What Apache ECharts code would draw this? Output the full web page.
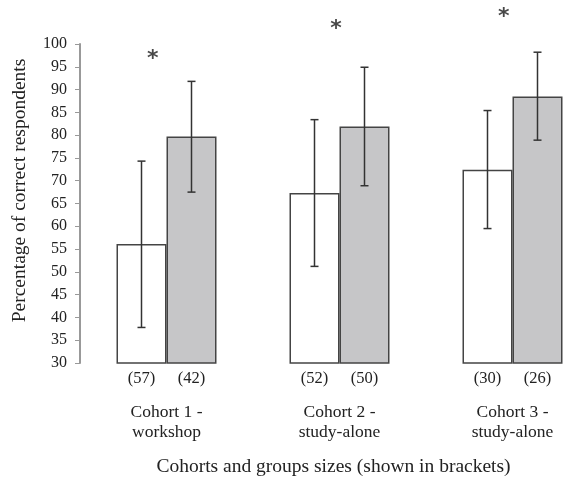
<!DOCTYPE html>
<html><head><meta charset="utf-8">
<script src="https://cdn.jsdelivr.net/npm/echarts@6/dist/echarts.min.js"></script>
<style>html,body{margin:0;padding:0;background:#fff}#c{width:563px;height:482px}</style>
</head><body><div id="c"></div>
<script>
const categories = ['Cohort 1 -\nworkshop', 'Cohort 2 -\nstudy-alone', 'Cohort 3 -\nstudy-alone'];
const whiteValues = [56.1, 67.3, 72.4];
const grayValues = [79.7, 81.9, 88.5];
const whiteLow = [37.8, 51.2, 59.5];
const whiteHigh = [74.3, 83.4, 85.4];
const grayLow = [67.5, 68.9, 78.9];
const grayHigh = [91.8, 94.9, 98.2];
const whiteSizes = ['(57)', '(52)', '(30)'];
const graySizes = ['(42)', '(50)', '(26)'];
const asteriskX = [-0.08, 0.98, 1.95];
const asteriskY = [97.8, 104.4, 107];

const FONT = 'Liberation Serif';
const TXT = '#222';
const chart = echarts.init(document.getElementById('c'), null, {renderer: 'canvas'});

function errorSeries(low, high, shift) {
  return {
    type: 'custom',
    xAxisIndex: 0,
    z: 5,
    clip: false,
    data: low.map((l, i) => [i, l, high[i]]),
    renderItem: function (params, api) {
      const lo = api.coord([api.value(0), api.value(1)]);
      const hi = api.coord([api.value(0), api.value(2)]);
      const x = lo[0] + shift;
      const cap = 4;
      const st = {stroke: '#333', lineWidth: 1.5};
      return {
        type: 'group',
        children: [
          {type: 'line', shape: {x1: x, y1: lo[1], x2: x, y2: hi[1]}, style: st},
          {type: 'line', shape: {x1: x - cap, y1: lo[1], x2: x + cap, y2: lo[1]}, style: st},
          {type: 'line', shape: {x1: x - cap, y1: hi[1], x2: x + cap, y2: hi[1]}, style: st}
        ]
      };
    }
  };
}

const sizeLabel = (arr) => ({
  show: true,
  position: 'bottom',
  distance: 6,
  formatter: (p) => arr[p.dataIndex],
  fontFamily: FONT,
  fontSize: 16.5,
  color: TXT
});

chart.setOption({
  animation: false,
  backgroundColor: '#fff',
  grid: {left: 80, top: 44, width: 519, height: 319, containLabel: false, outerBoundsMode: 'none'},
  xAxis: [{
    type: 'category',
    data: categories,
    axisLine: {show: false},
    axisTick: {show: false},
    axisLabel: {
      fontFamily: FONT, fontSize: 17.5, color: TXT, margin: 40, lineHeight: 19.5
    },
    name: 'Cohorts and groups sizes (shown in brackets)',
    nameLocation: 'middle',
    nameGap: 94,
    nameTextStyle: {fontFamily: FONT, fontSize: 19.5, color: TXT, padding: [0, 12, 0, 0]}
  }, {
    type: 'value',
    min: -0.5, max: 2.5,
    show: false
  }],
  yAxis: {
    type: 'value',
    min: 30, max: 100, interval: 5,
    splitLine: {show: false},
    axisLine: {show: true, onZero: false, lineStyle: {color: '#999', width: 2}},
    axisTick: {show: true, length: 5, lineStyle: {color: '#999', width: 1}},
    axisLabel: {fontFamily: FONT, fontSize: 16, color: TXT, margin: 13},
    name: 'Percentage of correct respondents',
    nameLocation: 'middle',
    nameGap: 50,
    nameTextStyle: {fontFamily: FONT, fontSize: 19.5, color: TXT, padding: [0, 0, 0, 26]}
  },
  series: [
    {
      type: 'bar', xAxisIndex: 0, data: whiteValues, barWidth: 50, barGap: '0%',
      itemStyle: {color: '#fff', borderColor: '#444', borderWidth: 1.5},
      label: sizeLabel(whiteSizes)
    },
    {
      type: 'bar', xAxisIndex: 0, data: grayValues, barWidth: 50, barGap: '0%',
      itemStyle: {color: '#c6c6c8', borderColor: '#444', borderWidth: 1.5},
      label: sizeLabel(graySizes)
    },
    errorSeries(whiteLow, whiteHigh, -25),
    errorSeries(grayLow, grayHigh, 25),
    {
      type: 'scatter', xAxisIndex: 1, clip: false, symbolSize: 0,
      data: asteriskX.map((x, i) => [x, asteriskY[i]]),
      label: {show: true, position: 'inside', formatter: '*', fontFamily: 'DejaVu Sans', fontSize: 22, fontWeight: 'bold', color: '#1a1a1a', offset: [0, 5]}
    }
  ]
});
</script></body></html>
